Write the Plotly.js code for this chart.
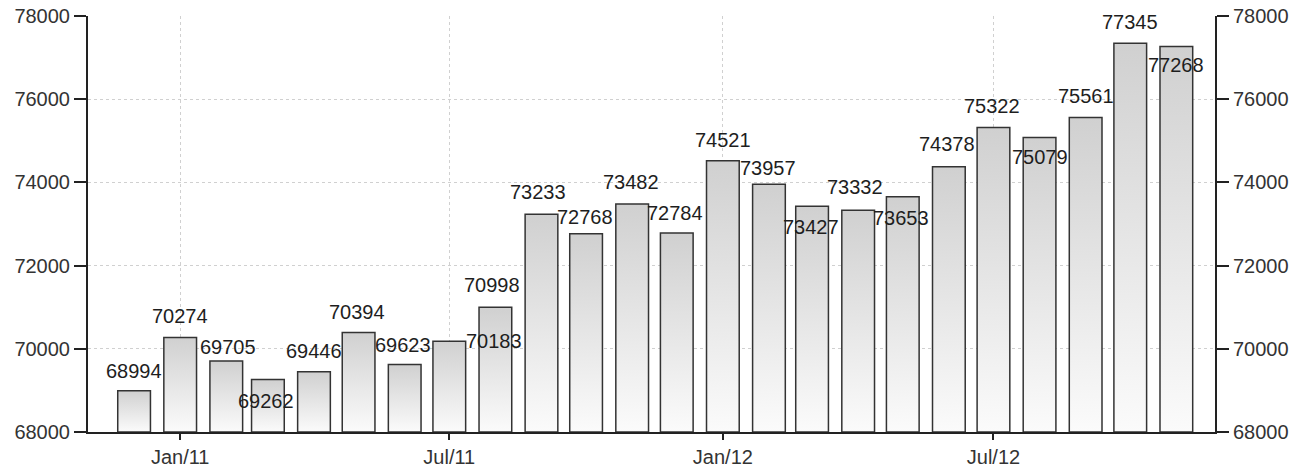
<!DOCTYPE html>
<html>
<head>
<meta charset="utf-8">
<script src="https://cdn.plot.ly/plotly-3.0.1.min.js"></script>
<style>
  html, body { margin: 0; padding: 0; background: #fff; }
  #chart { width: 1298px; height: 467px; }
  #chart .bars .point path { fill: url(#bargrad) #dcdcdc !important; fill-opacity: 1 !important; }
</style>
</head>
<body>
<svg width="1" height="1" style="position:absolute;left:0;top:0" aria-hidden="true">
  <defs>
    <linearGradient id="bargrad" x1="0" y1="0" x2="0" y2="1">
      <stop offset="0%" stop-color="#d0d0d0"/>
      <stop offset="100%" stop-color="#fbfbfb"/>
    </linearGradient>
  </defs>
</svg>
<div id="chart"></div>
<script>
// Data
const months = [
  '2010-12-01','2011-01-01','2011-02-01','2011-03-01','2011-04-01','2011-05-01',
  '2011-06-01','2011-07-01','2011-08-01','2011-09-01','2011-10-01','2011-11-01',
  '2011-12-01','2012-01-01','2012-02-01','2012-03-01','2012-04-01','2012-05-01',
  '2012-06-01','2012-07-01','2012-08-01','2012-09-01','2012-10-01','2012-11-01'
];
const values = [
  68994, 70274, 69705, 69262, 69446, 70394,
  69623, 70183, 70998, 73233, 72768, 73482,
  72784, 74521, 73957, 73427, 73332, 73653,
  74378, 75322, 75079, 75561, 77345, 77268
];
const xTickVals = ['2011-01-01','2011-07-01','2012-01-01','2012-07-01'];
const xTickText = ['Jan/11','Jul/11','Jan/12','Jul/12'];

// Label placement offsets (px) relative to bar top: [dx, dy(down positive)]
const labelOffsets = [
  [0,-20],[0,-21],[2,-14],[-2,21],[0,-21],[-2,-20],
  [-2,-19],[45,0],[-3,-22],[-3,-22],[-1,-17],[-1,-22],
  [-2,-20],[0,-21],[-1,-16],[-1,21],[-3,-23],[-2,21],
  [-2,-23],[-1,-21],[0,19],[0,-21],[0,-21],[0,19]
];

const FONT = 'Liberation Sans, Arial, sans-serif';
const DAY = 86400000;
const Y_MIN = 68000, Y_MAX = 78000;

const barTrace = {
  type: 'bar',
  x: months,
  y: values.map(v => v - Y_MIN),
  base: Y_MIN,
  width: months.map(() => 22 * DAY),
  marker: { color: '#dcdcdc', line: { color: '#333333', width: 1.5 } },
  hoverinfo: 'skip'
};
const rightAxisTrace = {
  type: 'scatter',
  mode: 'markers',
  x: months,
  y: values,
  yaxis: 'y2',
  marker: { opacity: 0 },
  hoverinfo: 'skip',
  showlegend: false
};

const annotations = values.map((v, i) => ({
  x: months[i],
  y: v,
  text: String(v),
  showarrow: false,
  xanchor: 'center',
  yanchor: 'middle',
  xshift: labelOffsets[i][0],
  yshift: -labelOffsets[i][1],
  font: { family: FONT, size: 20, color: '#1e1e1e' }
}));

const yCommon = {
  range: [Y_MIN, Y_MAX],
  dtick: 2000,
  tick0: Y_MIN,
  tickformat: 'd',
  ticks: 'outside',
  ticklen: 12,
  tickwidth: 2,
  tickcolor: '#222',
  showline: true,
  linecolor: '#222',
  linewidth: 2,
  tickfont: { family: FONT, size: 20, color: '#333' },
  zeroline: false,
  fixedrange: true
};

const layout = {
  width: 1298,
  height: 467,
  margin: { l: 88, r: 83, t: 16, b: 35 },
  paper_bgcolor: '#ffffff',
  plot_bgcolor: '#ffffff',
  showlegend: false,
  bargap: 0,
  xaxis: {
    type: 'date',
    range: ['2010-10-31', '2012-11-27'],
    tickvals: xTickVals,
    ticktext: xTickText,
    ticks: 'outside',
    ticklen: 6,
    tickwidth: 2,
    tickcolor: '#222',
    showline: true,
    linecolor: '#222',
    linewidth: 2,
    showgrid: true,
    gridcolor: '#d0d0d0',
    griddash: 'dot',
    gridwidth: 1,
    tickfont: { family: FONT, size: 20, color: '#333' },
    zeroline: false,
    fixedrange: true
  },
  yaxis: Object.assign({}, yCommon, {
    side: 'left',
    showgrid: true,
    gridcolor: '#d0d0d0',
    griddash: 'dot',
    gridwidth: 1
  }),
  yaxis2: Object.assign({}, yCommon, {
    side: 'right',
    overlaying: 'y',
    showgrid: false
  }),
  annotations: annotations
};

Plotly.newPlot('chart', [barTrace, rightAxisTrace], layout, { staticPlot: true, displayModeBar: false });
</script>
</body>
</html>
